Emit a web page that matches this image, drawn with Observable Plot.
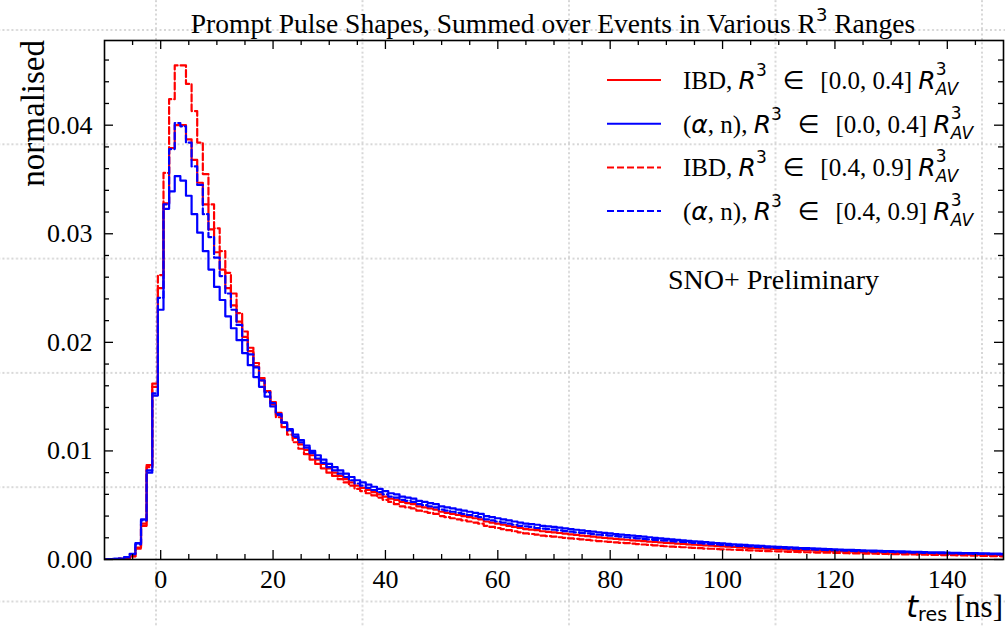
<!DOCTYPE html>
<html><head><meta charset="utf-8">
<script src="https://cdn.jsdelivr.net/npm/d3@7"></script>
<script src="https://cdn.jsdelivr.net/npm/@observablehq/plot@0.6"></script>
<style>
html,body{margin:0;padding:0;background:#fff;}
#wrap{position:relative;width:1005px;height:627px;overflow:hidden;background:#fff;}
#bg{position:absolute;left:0;top:0;}
#chart{position:absolute;left:0;top:0;}
</style></head><body>
<div id="wrap"><svg id="bg" width="1005" height="627"></svg><div id="chart"></div></div>
<script>
// ---- data: normalised counts per 1 ns bin, bins centred on t = -10 ... 150 ----
const binStart = -10;
const ibdInner = [ // IBD, R^3 in [0.0,0.4] (red solid)
0.00001,0.00002,0.00003,0.00005,0.00012,0.0003,0.0011,0.0033,0.0087,0.0162,
0.0250,0.0328,0.0379,0.0400,0.0400,0.0387,0.0368,0.0347,0.0327,0.0304,
0.0283,0.0267,0.0250,0.0234,0.0219,0.0205,0.0192,0.0178,0.0165,0.0155,
0.0145,0.0135,0.0126,0.0119,0.0112,0.0106,0.0101,0.0096,0.0092,0.0088,
0.0084,0.0080,0.0077,0.0074,0.0071,0.0068,0.0066,0.0064,0.0062,0.0060,
0.0058,0.0056,0.0055,0.0053,0.0052,0.0051,0.0049,0.0048,0.0047,0.0046,
0.0044,0.0043,0.0042,0.0041,0.0040,0.0039,0.0038,0.0037,0.0035,0.0034,
0.0033,0.0032,0.0031,0.0030,0.0029,0.0028,0.00275,0.0027,0.0026,0.00255,
0.0025,0.00244,0.00238,0.00232,0.00226,0.0022,0.00215,0.0021,0.00204,0.002,
0.00195,0.0019,0.00186,0.00182,0.00177,0.00173,0.00169,0.00165,0.00161,0.00157,
0.00153,0.0015,0.00146,0.00143,0.00139,0.00136,0.00133,0.0013,0.00127,0.00124,
0.00121,0.00118,0.00115,0.00112,0.0011,0.00107,0.00105,0.00102,0.001,0.00097,
0.00095,0.00093,0.00091,0.00089,0.00087,0.00085,0.00083,0.00081,0.0008,0.00078,
0.00076,0.00075,0.00073,0.00072,0.0007,0.00069,0.00067,0.00066,0.00065,0.00063,
0.00062,0.00061,0.0006,0.00058,0.00057,0.00056,0.00055,0.00054,0.00053,0.00052,
0.00051,0.0005,0.00049,0.00048,0.00047,0.00046,0.00045,0.00044,0.00043,0.00042,0.00041];
const anInner = [ // (alpha,n), R^3 in [0.0,0.4] (blue solid)
0.00002,0.00003,0.00005,0.00008,0.00022,0.00052,0.0015,0.0037,0.0080,0.0151,
0.0230,0.0323,0.0339,0.0353,0.0349,0.0335,0.0318,0.0301,0.0284,0.0267,
0.0251,0.0239,0.0224,0.0213,0.0202,0.0190,0.0179,0.0168,0.0159,0.0150,
0.0141,0.0133,0.0126,0.0120,0.0115,0.0110,0.0105,0.0100,0.0096,0.0092,
0.0088,0.0085,0.0082,0.0079,0.0076,0.0073,0.0071,0.0069,0.0067,0.0065,
0.0063,0.0061,0.0060,0.0058,0.0057,0.0056,0.0054,0.0053,0.0052,0.0051,
0.0049,0.0048,0.0047,0.0046,0.0045,0.0044,0.0043,0.0042,0.0040,0.0039,
0.0038,0.0037,0.0036,0.0035,0.0034,0.0033,0.00325,0.0032,0.0031,0.00305,
0.0030,0.00293,0.00286,0.0028,0.00274,0.00268,0.00262,0.00256,0.0025,0.00245,
0.0024,0.00235,0.0023,0.00225,0.0022,0.00215,0.0021,0.00205,0.0020,0.00195,
0.0019,0.00185,0.0018,0.00176,0.00172,0.00168,0.00164,0.0016,0.00156,0.00152,
0.00148,0.00144,0.0014,0.00137,0.00134,0.00131,0.00128,0.00125,0.00122,0.00119,
0.00116,0.00114,0.00111,0.00109,0.00106,0.00104,0.00102,0.001,0.00098,0.00096,
0.00094,0.00092,0.0009,0.00088,0.00086,0.00085,0.00083,0.00081,0.0008,0.00078,
0.00077,0.00075,0.00074,0.00072,0.00071,0.0007,0.00068,0.00067,0.00066,0.00065,
0.00064,0.00062,0.00061,0.0006,0.00059,0.00058,0.00057,0.00056,0.00055,0.00054,0.00053];
const ibdOuter = [ // IBD, R^3 in [0.4,0.9] (red dashed)
0.00001,0.00002,0.00003,0.00005,0.0001,0.00028,0.0010,0.0031,0.0085,0.0159,
0.0262,0.0356,0.0424,0.0455,0.0455,0.0438,0.0413,0.0384,0.0355,0.0327,
0.0305,0.0284,0.0264,0.0245,0.0227,0.0210,0.0195,0.0181,0.0167,0.0155,
0.0143,0.0131,0.0122,0.0115,0.0108,0.0102,0.0097,0.0092,0.0088,0.0084,
0.0080,0.0077,0.0074,0.0071,0.0068,0.0065,0.0063,0.0061,0.0059,0.0057,
0.0055,0.0053,0.0051,0.0049,0.0048,0.0047,0.0045,0.0044,0.0043,0.0042,
0.0040,0.0039,0.0038,0.0037,0.0036,0.0035,0.0034,0.0033,0.0031,0.0030,
0.0029,0.0028,0.0027,0.0026,0.0025,0.0024,0.00235,0.0023,0.0022,0.00215,
0.0021,0.00205,0.002,0.00195,0.0019,0.00185,0.0018,0.00175,0.0017,0.00166,
0.00162,0.00158,0.00154,0.0015,0.00146,0.00142,0.00138,0.00134,0.0013,0.00126,
0.00122,0.00119,0.00116,0.00113,0.0011,0.00107,0.00104,0.00101,0.00099,0.00096,
0.00094,0.00092,0.0009,0.00088,0.00086,0.00084,0.00082,0.0008,0.00078,0.00076,
0.00074,0.00073,0.00071,0.0007,0.00068,0.00067,0.00066,0.00064,0.00063,0.00062,
0.00061,0.0006,0.00058,0.00057,0.00056,0.00055,0.00054,0.00053,0.00052,0.00051,
0.0005,0.00049,0.00048,0.00047,0.00046,0.00045,0.00044,0.00043,0.00042,0.00041,
0.0004,0.00039,0.00038,0.00037,0.00036,0.00035,0.00034,0.00033,0.00032,0.00031,0.00029];
const anOuter = [ // (alpha,n), R^3 in [0.4,0.9] (blue dashed)
0.00002,0.00003,0.00005,0.00008,0.0002,0.0005,0.0014,0.0036,0.0082,0.0153,
0.0241,0.0327,0.0378,0.0402,0.0399,0.0384,0.0362,0.0345,0.0318,0.0297,
0.0278,0.0261,0.0245,0.0230,0.0216,0.0202,0.0189,0.0177,0.0165,0.0154,
0.0144,0.0134,0.0126,0.0119,0.0113,0.0108,0.0103,0.0098,0.0093,0.0089,
0.0085,0.0082,0.0079,0.0076,0.0073,0.0070,0.0068,0.0066,0.0064,0.0062,
0.0060,0.0058,0.0057,0.0055,0.0054,0.0053,0.0051,0.0050,0.0049,0.0048,
0.0046,0.0045,0.0044,0.0043,0.0042,0.0041,0.0040,0.0039,0.0037,0.0036,
0.0035,0.0034,0.0033,0.0032,0.0031,0.00305,0.0030,0.0029,0.00285,0.0028,
0.00275,0.00268,0.00262,0.00256,0.0025,0.00245,0.0024,0.00234,0.00228,0.00224,
0.0022,0.00215,0.0021,0.00205,0.002,0.00195,0.0019,0.00186,0.00181,0.00177,
0.00173,0.0017,0.00165,0.00161,0.00157,0.00153,0.0015,0.00146,0.00142,0.00139,
0.00135,0.00132,0.00128,0.00125,0.00122,0.0012,0.00117,0.00114,0.00111,0.00108,
0.00106,0.00104,0.00101,0.00099,0.00097,0.00095,0.00093,0.00091,0.00089,0.00087,
0.00085,0.00083,0.00081,0.0008,0.00078,0.00077,0.00075,0.00073,0.00072,0.0007,
0.00069,0.00068,0.00066,0.00065,0.00064,0.00063,0.00061,0.0006,0.00059,0.00058,
0.00057,0.00056,0.00055,0.00054,0.00053,0.00052,0.00051,0.0005,0.00049,0.00048,0.00047];

const xDomain = [-10, 150];
const yDomain = [0, 0.0478];
const xTickLabels = [0, 20, 40, 60, 80, 100, 120, 140];
const yTickLabels = [0.00, 0.01, 0.02, 0.03, 0.04];
const xMinorStep = 5, yMinorStep = 0.002;

const series = [
  {name: "IBD", range: "[0.0, 0.4]", values: ibdInner, color: "#ff0000", dash: null},
  {name: "an",  range: "[0.0, 0.4]", values: anInner,  color: "#0000ff", dash: null},
  {name: "IBD", range: "[0.4, 0.9]", values: ibdOuter, color: "#ff0000", dash: "7,3"},
  {name: "an",  range: "[0.4, 0.9]", values: anOuter,  color: "#0000ff", dash: "7,3"}
];

const SERIF = "'Liberation Serif','Times New Roman',serif";
const SANS = "'DejaVu Sans',sans-serif";
const W = 1005, H = 627, mL = 104, mR = 2, mT = 40, mB = 68;
const iW = W - mL - mR, iH = H - mT - mB;

const xMinor = d3.range(xDomain[0] + xMinorStep, xDomain[1], xMinorStep).filter(v => v % 20 !== 0);
const yMinor = d3.range(yMinorStep, yDomain[1], yMinorStep).filter(v => Math.abs(v / 0.01 - Math.round(v / 0.01)) > 1e-6);

const tickStyle = {stroke: "#000", strokeWidth: 1.3};
const plot = Plot.plot({
  width: W, height: H,
  marginLeft: mL, marginRight: mR, marginTop: mT, marginBottom: mB,
  style: {background: "transparent", fontFamily: SERIF, fontSize: "26px", color: "#000"},
  x: {domain: xDomain, label: null},
  y: {domain: yDomain, label: null},
  marks: [
    ...series.map(s => Plot.line(s.values, {
      x: (d, i) => binStart + i, y: d => d, curve: "step",
      stroke: s.color, strokeWidth: 2.2, strokeDasharray: s.dash, clip: true
    })),
    Plot.ruleX(xTickLabels, {...tickStyle, insetTop: iH - 9}),
    Plot.ruleX(xTickLabels, {...tickStyle, insetBottom: iH - 9}),
    Plot.ruleX(xMinor, {...tickStyle, insetTop: iH - 5}),
    Plot.ruleX(xMinor, {...tickStyle, insetBottom: iH - 5}),
    Plot.ruleY(yTickLabels, {...tickStyle, insetRight: iW - 9}),
    Plot.ruleY(yTickLabels, {...tickStyle, insetLeft: iW - 9}),
    Plot.ruleY(yMinor, {...tickStyle, insetRight: iW - 5}),
    Plot.ruleY(yMinor, {...tickStyle, insetLeft: iW - 5}),
    Plot.frame({stroke: "#000", strokeWidth: 1.6}),
    Plot.axisX(xTickLabels, {anchor: "bottom", tickSize: 0, tickPadding: 10, fontSize: 26, tickFormat: d => String(d)}),
    Plot.axisY(yTickLabels, {anchor: "left", tickSize: 0, tickPadding: 12, fontSize: 26, tickFormat: d => d.toFixed(2)})
  ]
});
document.getElementById("chart").appendChild(plot);

// ---- background dotted grid (as in the reference image) ----
const bg = d3.select("#bg");
const pat = bg.append("defs").append("pattern").attr("id", "dots")
  .attr("patternUnits", "userSpaceOnUse").attr("x", 155).attr("y", 29)
  .attr("width", 206.5).attr("height", 114.3);
pat.append("line").attr("x1", 1).attr("y1", 0).attr("x2", 1).attr("y2", 114.3)
  .attr("stroke", "#d6d6d6").attr("stroke-width", 2).attr("stroke-dasharray", "2,2.5");
pat.append("line").attr("x1", 0).attr("y1", 1).attr("x2", 206.5).attr("y2", 1)
  .attr("stroke", "#d6d6d6").attr("stroke-width", 2).attr("stroke-dasharray", "2,2.5");
bg.append("rect").attr("width", W).attr("height", H).attr("fill", "url(#dots)");

// ---- rich text helper (mathtext-like) ----
const svg = d3.select(plot);
function rich(x, y, parts, anchor, size) {
  const t = svg.append("text").attr("x", x).attr("y", y)
    .attr("text-anchor", anchor || "start").attr("fill", "#000")
    .style("white-space", "pre").attr("font-size", size);
  let shift = 0, measured = null;
  parts.forEach(p => {
    const ts = t.append("tspan").text(p.t)
      .attr("font-family", p.sans ? SANS : SERIF)
      .attr("font-style", p.it ? "italic" : "normal");
    if (p.size) ts.attr("font-size", p.size);
    const target = p.shift || 0;
    if (target !== shift) ts.attr("dy", target - shift);
    shift = target;
    if (p.back && measured) ts.attr("dx", -measured.node().getComputedTextLength());
    if (p.measure) measured = ts;
  });
  return t;
}

// title
rich(553, 33, [
  {t: "Prompt Pulse Shapes, Summed over Events in Various R"},
  {t: "3", sans: true, size: 18, shift: -12},
  {t: " Ranges", shift: 0}
], "middle", 27.5);

// axis labels
rich(1003, 617, [
  {t: "t", sans: true, it: true, size: 30},
  {t: "res", sans: true, size: 19, shift: 4},
  {t: " [ns]", shift: 0}
], "end", 31);
svg.append("text").attr("transform", "translate(44,40) rotate(-90)")
  .attr("text-anchor", "end").attr("font-family", SERIF).attr("font-size", 33)
  .attr("fill", "#000").text("normalised");

// legend
const legX = 607, legLen = 54, legTextX = 683, legY0 = 80, legDY = 43.7;
series.forEach((s, i) => {
  const y = legY0 + i * legDY;
  svg.append("line").attr("x1", legX).attr("x2", legX + legLen).attr("y1", y).attr("y2", y)
    .attr("stroke", s.color).attr("stroke-width", 2).attr("stroke-dasharray", s.dash);
  const head = s.name === "IBD"
    ? [{t: "IBD, "}]
    : [{t: "("}, {t: "α", sans: true, it: true}, {t: ", n), "}];
  rich(legTextX, y + 9, [
    ...head,
    {t: "R", sans: true, it: true},
    {t: "3", sans: true, size: 17, shift: -13},
    {t: "  ∈  ", sans: true, shift: 0},
    {t: s.range + " "},
    {t: "R", sans: true, it: true},
    {t: "AV", sans: true, it: true, size: 17, shift: 6, measure: true},
    {t: "3", sans: true, size: 17, shift: -14, back: true}
  ], "start", 25);
});

// annotation
rich(668, 289, [{t: "SNO+ Preliminary"}], "start", 28);
</script>
</body></html>
